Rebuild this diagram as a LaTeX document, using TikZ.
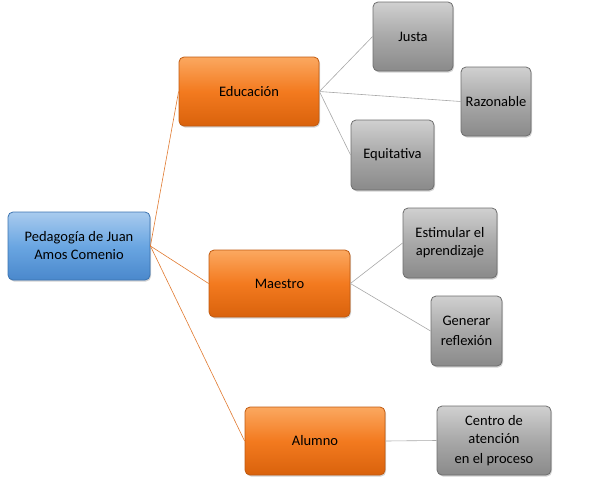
\documentclass[tikz,border=0pt]{standalone}
\usepackage{fontspec}
\setmainfont{Carlito}
\usetikzlibrary{shadows}
\definecolor{orA}{HTML}{FBA860}
\definecolor{orB}{HTML}{F37A1F}
\definecolor{orC}{HTML}{D9620C}
\definecolor{orD}{HTML}{C05A10}
\definecolor{grA}{HTML}{D0D0D0}
\definecolor{grB}{HTML}{A8A8A8}
\definecolor{grC}{HTML}{8A8A8A}
\definecolor{grD}{HTML}{6E6E6E}
\definecolor{blA}{HTML}{A9CBEE}
\definecolor{blB}{HTML}{6AA6E2}
\definecolor{blC}{HTML}{4A88CC}
\definecolor{blD}{HTML}{3B73B0}
\definecolor{lnO}{HTML}{E07A30}
\definecolor{lnG}{HTML}{A8A8A8}
\tikzset{
  box/.style={rounded corners=5pt, align=center, font=\fontsize{14.5}{18}\selectfont,
    inner sep=2pt, drop shadow={shadow xshift=1pt, shadow yshift=-1.5pt, opacity=0.35}},
  orbox/.style={box, draw=orD, line width=0.8pt, top color=orA, bottom color=orC, middle color=orB},
  grbox/.style={box, draw=grD, line width=0.8pt, top color=grA, bottom color=grC, middle color=grB},
  blbox/.style={box, draw=blD, line width=0.8pt, top color=blA, bottom color=blC, middle color=blB},
  oline/.style={draw=lnO, line width=0.6pt},
  gline/.style={draw=lnG, line width=0.6pt},
}
\begin{document}
\begin{tikzpicture}[x=1pt,y=-1pt]
\useasboundingbox (0,0) rectangle (597,480);
\node[blbox, minimum width=142pt, minimum height=68pt] (root) at (79,246) {Pedagogía de Juan\\Amos Comenio};
\node[orbox, minimum width=140pt, minimum height=69pt] (edu) at (249,91.5) {Educación};
\node[orbox, minimum width=141pt, minimum height=67pt] (mae) at (279.5,283.5) {Maestro};
\node[orbox, minimum width=140pt, minimum height=68pt] (alu) at (315,441) {Alumno};
\node[grbox, minimum width=80pt, minimum height=69pt] (jus) at (413,36.5) {Justa};
\node[grbox, minimum width=70pt, minimum height=69pt, inner sep=0pt] (raz) at (496,101.5) {Razonable};
\node[grbox, minimum width=83pt, minimum height=70pt] (equ) at (392.5,155) {Equitativa};
\node[grbox, minimum width=94pt, minimum height=70pt] (est) at (450,243) {Estimular el\\aprendizaje};
\node[grbox, minimum width=71pt, minimum height=70pt] (gen) at (466.5,331) {Generar\\[2pt]reflexión};
\node[grbox, minimum width=114pt, minimum height=69pt] (cen) at (494,440.5) {Centro de\\atención\\[2pt]en el proceso};
\path[oline] (root.east) -- (edu.west);
\path[oline] (root.east) -- (mae.west);
\path[oline] (root.east) -- (alu.west);
\path[gline] (edu.east) -- (jus.west);
\path[gline] (edu.east) -- (raz.west);
\path[gline] (edu.east) -- (equ.west);
\path[gline] (mae.east) -- (est.west);
\path[gline] (mae.east) -- (gen.west);
\path[gline] (alu.east) -- (cen.west);
\end{tikzpicture}
\end{document}
